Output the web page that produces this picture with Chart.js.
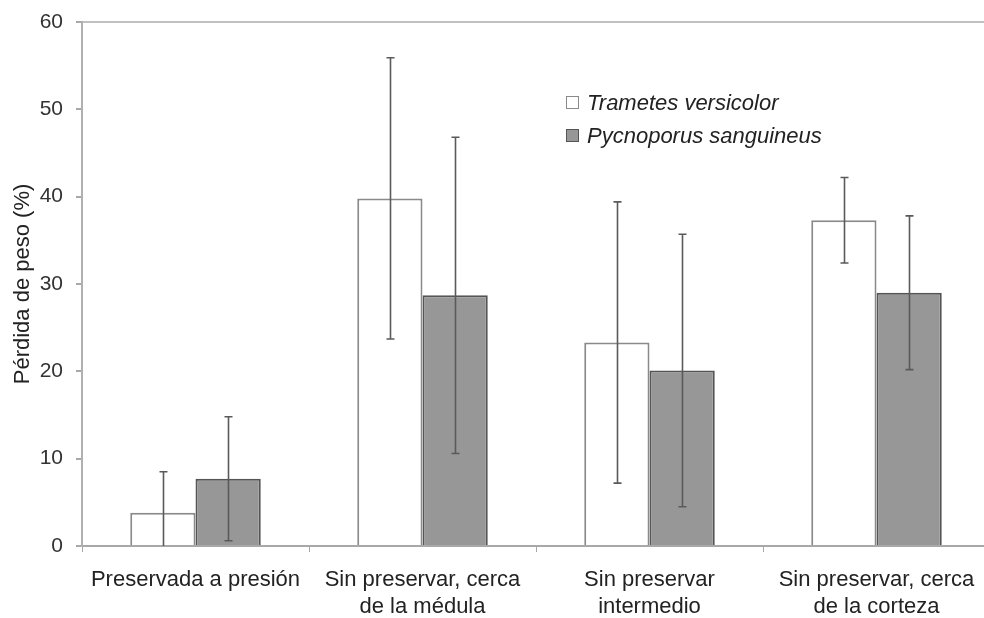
<!DOCTYPE html>
<html>
<head>
<meta charset="utf-8">
<script src="https://cdn.jsdelivr.net/npm/chart.js@4"></script>
<style>
  html, body { margin: 0; padding: 0; background: #fff; overflow: hidden; }
  #wrap { width: 992px; height: 618px; }
</style>
</head>
<body>
<div id="wrap"><canvas id="chart" width="992" height="618"></canvas></div>
<script>
const categories = [
  ['Preservada a presión'],
  ['Sin preservar, cerca', 'de la médula'],
  ['Sin preservar', 'intermedio'],
  ['Sin preservar, cerca', 'de la corteza']
];
const seriesNames = ['Trametes versicolor', 'Pycnoporus sanguineus'];
const trametes = [3.8, 39.8, 23.3, 37.3];
const trametesErr = [4.7, 16.1, 16.1, 4.9];
const pycnoporus = [7.7, 28.7, 20.1, 29.0];
const pycnoporusErr = [7.1, 18.1, 15.6, 8.8];
const yTicks = [0, 10, 20, 30, 40, 50, 60];

const font = 'Liberation Sans, Arial, sans-serif';

const errorBars = {
  id: 'errorBars',
  afterDatasetsDraw(chart) {
    const { ctx, chartArea, scales } = chart;
    ctx.save();
    ctx.beginPath();
    ctx.rect(chartArea.left, chartArea.top - 2, chartArea.right - chartArea.left, chartArea.bottom - chartArea.top + 2);
    ctx.clip();
    ctx.strokeStyle = '#5a5a5a';
    ctx.lineWidth = 1.6;
    chart.data.datasets.forEach((ds, di) => {
      const meta = chart.getDatasetMeta(di);
      meta.data.forEach((bar, i) => {
        const v = ds.data[i], e = ds.errors[i];
        const x = Math.round(bar.x) + 0.5;
        const yTop = scales.y.getPixelForValue(v + e);
        const yBot = scales.y.getPixelForValue(v - e);
        ctx.beginPath();
        ctx.moveTo(x, yTop); ctx.lineTo(x, yBot);
        ctx.moveTo(x - 4, yTop); ctx.lineTo(x + 4, yTop);
        ctx.moveTo(x - 4, yBot); ctx.lineTo(x + 4, yBot);
        ctx.stroke();
      });
    });
    ctx.restore();
  }
};

const legendBox = {
  id: 'legendBox',
  afterDraw(chart) {
    const { ctx } = chart;
    ctx.save();
    ctx.font = 'italic 22px ' + font;
    ctx.textBaseline = 'middle';
    chart.data.datasets.forEach((ds, i) => {
      const y = 103 + i * 33;
      ctx.fillStyle = ds.backgroundColor;
      ctx.strokeStyle = ds.borderColor;
      ctx.lineWidth = 1;
      ctx.fillRect(566.5, y - 6.5, 12, 12);
      ctx.strokeRect(566.5, y - 6.5, 12, 12);
      ctx.fillStyle = '#222';
      ctx.fillText(ds.label, 587, y + 1);
    });
    ctx.restore();
  }
};

new Chart(document.getElementById('chart'), {
  type: 'bar',
  data: {
    labels: categories,
    datasets: [{
      label: seriesNames[0],
      data: trametes,
      errors: trametesErr,
      backgroundColor: '#ffffff',
      borderColor: '#8a8a8a',
      borderWidth: 2
    }, {
      label: seriesNames[1],
      data: pycnoporus,
      errors: pycnoporusErr,
      backgroundColor: '#979797',
      borderColor: '#555555',
      borderWidth: 2
    }]
  },
  options: {
    responsive: false,
    animation: false,
    categoryPercentage: 0.575,
    barPercentage: 1,
    layout: { padding: { top: 22, right: 2, left: 0, bottom: 0 } },
    plugins: { legend: { display: false }, tooltip: { enabled: false } },
    scales: {
      x: {
        offset: true,
        afterFit: s => { s.height = 72; s.paddingLeft = 0; s.paddingRight = 0; },
        border: { color: '#a8a8a8', width: 2 },
        grid: { offset: true, drawOnChartArea: false, tickLength: 6, color: '#a8a8a8' },
        ticks: { color: '#222', font: { family: font, size: 22 }, padding: 15, maxRotation: 0, autoSkip: false }
      },
      y: {
        min: 0, max: 60,
        afterFit: s => { s.width = 82; s.paddingTop = 0; s.paddingBottom = 0; },
        afterBuildTicks: s => { s.ticks = yTicks.map(v => ({ value: v })); },
        border: { color: '#b0b0b0', width: 2 },
        grid: {
          tickLength: 6,
          tickColor: '#a8a8a8',
          color: c => c.tick && c.tick.value === 60 ? '#c0c0c0' : 'transparent',
          lineWidth: 2
        },
        ticks: { color: '#333', font: { family: font, size: 21 }, padding: 13 },
        title: { display: true, text: 'Pérdida de peso (%)', color: '#222', font: { family: font, size: 22 }, padding: { top: 10, bottom: 0 } }
      }
    }
  },
  plugins: [errorBars, legendBox]
});
</script>
</body>
</html>
